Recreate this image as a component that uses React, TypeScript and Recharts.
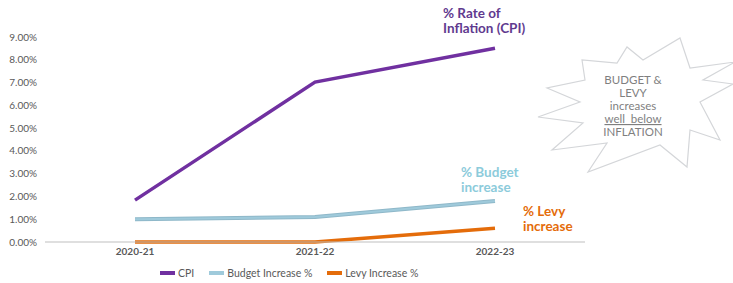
import React from "react";
import { LineChart, Line, XAxis, YAxis, Legend, Customized } from "recharts";

const years = ["2020-21", "2021-22", "2022-23"];
const cpi = [0.0184, 0.0702, 0.0851];
const budget = [0.01, 0.011, 0.018];
const levy = [0, 0, 0.006];
const yTicks = [0, 0.01, 0.02, 0.03, 0.04, 0.05, 0.06, 0.07, 0.08, 0.09];

const seriesNames = ["CPI", "Budget Increase %", "Levy Increase %"];
const colors = ["#7030a0", "#9fcadb", "#e46c0a"];

// starburst outline, pixel points of the callout shape
const starPoints: [number, number][] = [
  [680, 38], [690, 68], [735, 62], [703, 80], [733, 84], [700, 102],
  [720, 140], [690, 130], [687, 167], [660, 145], [588, 172], [607, 143],
  [552, 150], [583, 123], [538, 117], [580, 102], [547, 88], [585, 80],
  [582, 60], [617, 63], [627, 47], [643, 60],
];
const starLines = ["BUDGET &", "LEVY", "increases", "well  below", "INFLATION"];

const data = years.map((y, i) => ({
  year: y,
  cpi: cpi[i],
  budget: budget[i],
  levy: levy[i],
}));

const font = "Lato, 'Open Sans', sans-serif";

const Annotations = () => (
  <g fontFamily={font}>
    <polygon
      points={starPoints.map((p) => p.join(",")).join(" ")}
      fill="#ffffff"
      stroke="#d4d6d9"
      strokeWidth={1.2}
    />
    {starLines.map((t, i) => (
      <text
        key={t}
        x={633}
        y={84 + i * 13}
        textAnchor="middle"
        fontSize={11.5}
        fill="#7f7f7f"
        textDecoration={i === 3 ? "underline" : undefined}
        style={{ whiteSpace: "pre" }}
      >
        {t}
      </text>
    ))}
    <text fontSize={13.5} fontWeight={700} fill="#5f3a8f">
      <tspan x={443} y={18}>% Rate of</tspan>
      <tspan x={443} y={33}>Inflation (CPI)</tspan>
    </text>
    <text fontSize={13.5} fontWeight={700} fill="#8ccbdb">
      <tspan x={461} y={177}>% Budget</tspan>
      <tspan x={461} y={192}>increase</tspan>
    </text>
    <text fontSize={13.5} fontWeight={700} fill="#e46c0a">
      <tspan x={523} y={216}>% Levy</tspan>
      <tspan x={523} y={231}>increase</tspan>
    </text>
  </g>
);

const LegendContent = () => (
  <div
    style={{
      display: "flex",
      paddingLeft: 160,
      fontFamily: font,
      fontSize: 10.5,
      color: "#595959",
      alignItems: "center",
      height: 21,
    }}
  >
    {seriesNames.map((n, i) => (
      <div key={n} style={{ display: "flex", alignItems: "center", marginRight: 15 }}>
        <span
          style={{
            display: "inline-block",
            width: 15,
            height: 4,
            background: colors[i],
            marginRight: 3,
          }}
        />
        {n}
      </div>
    ))}
  </div>
);

export default function App() {
  return (
    <div style={{ position: "absolute", left: 0, top: 0, background: "#fff" }}>
      <LineChart
        width={733}
        height={283}
        data={data}
        margin={{ top: 37, right: 148, bottom: 0, left: 0 }}
      >
        <XAxis
          dataKey="year"
          padding={{ left: 90, right: 90 }}
          tickLine={false}
          axisLine={{ stroke: "#bfbfbf" }}
          height={20}
          tick={{ fontSize: 10, fill: "#595959", fontFamily: font, fontWeight: 700 }}
          dy={-2}
        />
        <YAxis
          domain={[0, 0.09]}
          ticks={yTicks}
          width={45}
          axisLine={false}
          tickLine={false}
          tickFormatter={(v: number) => (v * 100).toFixed(2) + "%"}
          tick={{ fontSize: 10, fill: "#595959", fontFamily: font }}
        />
        <Line
          dataKey="cpi"
          name={seriesNames[0]}
          stroke={colors[0]}
          strokeWidth={3.5}
          dot={false}
          isAnimationActive={false}
        />
        <Line
          dataKey="budget"
          name={seriesNames[1]}
          stroke="#8fb8c9"
          strokeWidth={4}
          dot={false}
          isAnimationActive={false}
        />
        <Line
          dataKey="budget"
          name="budgetInner"
          legendType="none"
          stroke={colors[1]}
          strokeWidth={2}
          dot={false}
          isAnimationActive={false}
        />
        <Line
          dataKey="levy"
          name={seriesNames[2]}
          stroke={colors[2]}
          strokeWidth={3.5}
          dot={false}
          isAnimationActive={false}
        />
        <Legend verticalAlign="bottom" height={21} content={<LegendContent />} />
        <Customized component={Annotations} />
      </LineChart>
    </div>
  );
}
